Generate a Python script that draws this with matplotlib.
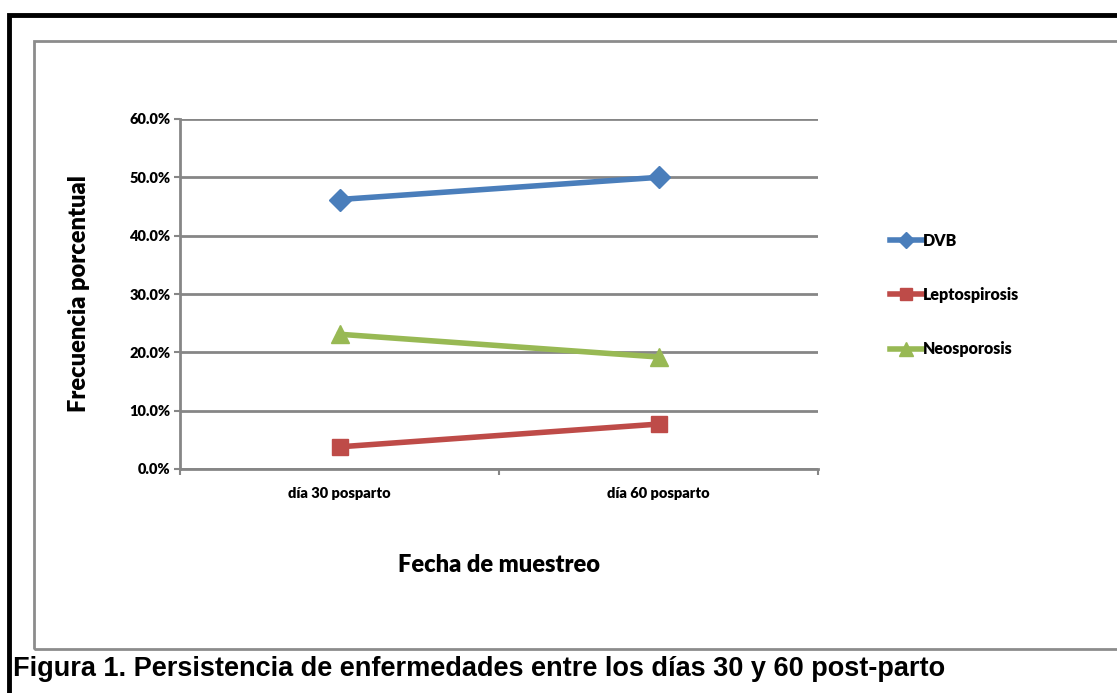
import matplotlib.pyplot as plt
from matplotlib.patches import Rectangle

# datos
categorias = ["día 30 posparto", "día 60 posparto"]
dvb = [46.2, 50.0]
lepto = [3.8, 7.7]
neo = [23.1, 19.2]
series = ["DVB", "Leptospirosis", "Neosporosis"]
yticks = [0, 10, 20, 30, 40, 50, 60]

W, H = 1117, 693
fig = plt.figure(figsize=(W / 100, H / 100), dpi=100)

# marco negro exterior y marco gris del grafico
fig.patches.append(Rectangle((9.5 / W, -0.1), 1.2, 1 - 15 / H + 0.1, transform=fig.transFigure,
                             fill=False, edgecolor="black", lw=3.5))
fig.patches.append(Rectangle((34 / W, 1 - 649 / H), 1.2, (649 - 41) / H, transform=fig.transFigure,
                             fill=False, edgecolor="#8c8c8c", lw=2))

ax = fig.add_axes([180 / W, 1 - 469 / H, (818 - 180) / W, (469 - 119) / H])

x = [0, 1]
ax.plot(x, dvb, color="#4A7EBB", lw=4, marker="D", ms=11, label=series[0])
ax.plot(x, lepto, color="#BE4B48", lw=4, marker="s", ms=12, label=series[1])
ax.plot(x, neo, color="#98B954", lw=4, marker="^", ms=13, label=series[2])

ax.set_xlim(-0.5, 1.5)
ax.set_ylim(0, 60)
ax.set_yticks(yticks)
ax.set_yticklabels([f"{v:.1f}%" for v in yticks], fontsize=10.5, fontweight="heavy", family="Lato")
ax.set_xticks([0, 1])
ax.set_xticklabels(categorias, fontsize=10.5, fontweight="heavy", family="Lato")
ax.set_xticks([-0.5, 0.5, 1.5], minor=True)
ax.tick_params(axis="x", which="major", length=0, pad=13)
ax.tick_params(axis="x", which="minor", length=4, color="#868686", width=1.5)
ax.tick_params(axis="y", length=4, color="#868686", width=1.5, pad=3)

ax.grid(axis="y", color="#868686", lw=2)
ax.set_axisbelow(True)
for s in ["top", "right"]:
    ax.spines[s].set_visible(False)
ax.spines["left"].set_color("#868686")
ax.spines["left"].set_linewidth(2)
ax.spines["bottom"].set_color("#868686")
ax.spines["bottom"].set_linewidth(2)

ax.set_ylabel("Frecuencia porcentual", fontsize=17, fontweight="heavy", family="Lato", labelpad=28)
ax.set_xlabel("Fecha de muestreo", fontsize=17, fontweight="heavy", family="Lato", labelpad=39)

leg = ax.legend(loc="center left", bbox_to_anchor=(1.09, 0.497), frameon=False,
                prop={"family": "Lato", "weight": "heavy", "size": 11.5},
                handlelength=2.0, handletextpad=0.1, labelspacing=2.4, markerscale=0.75)

fig.text(13 / W, 1 - 669 / H, "Figura 1. Persistencia de enfermedades entre los días 30 y 60 post-parto",
         fontsize=19.5, fontweight="bold", family=["Liberation Sans Narrow", "Liberation Sans"],
         va="center", ha="left")

fig.savefig("out.png", dpi=100)
